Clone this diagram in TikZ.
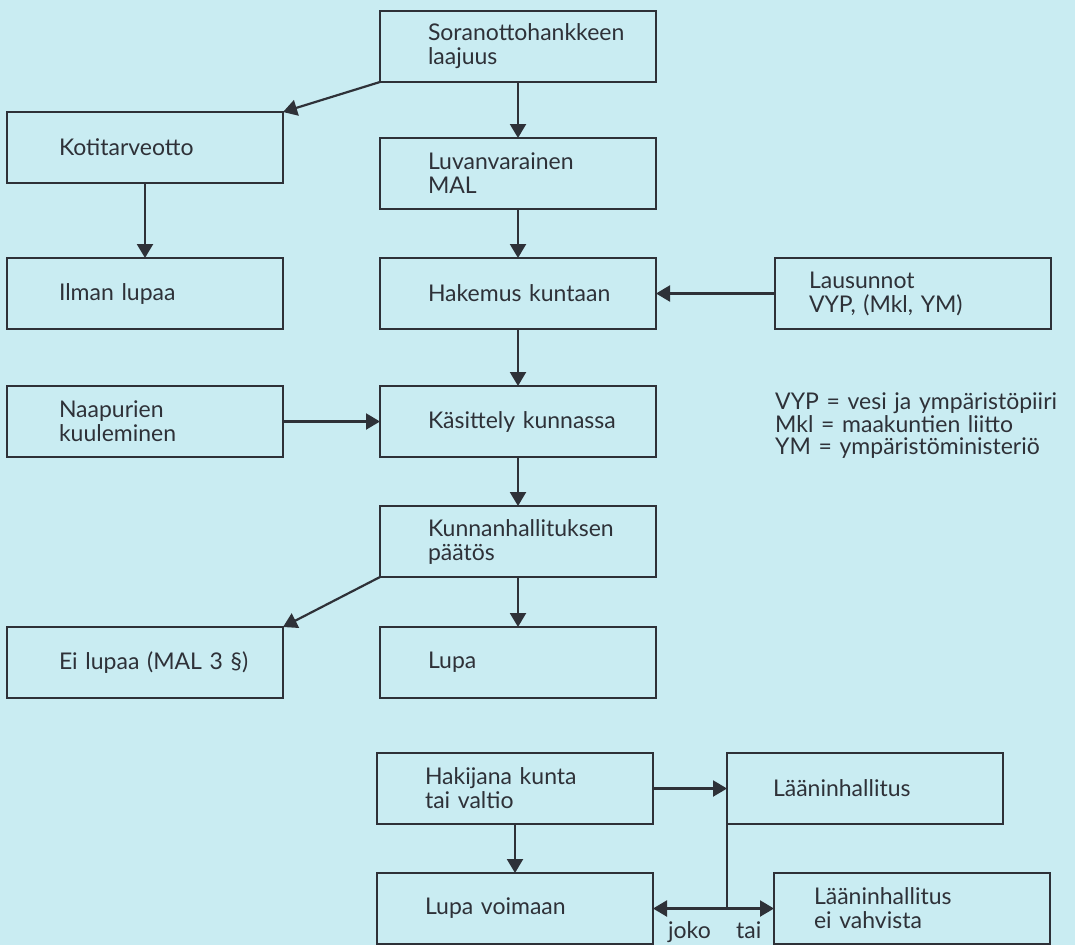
\documentclass[tikz,border=0pt]{standalone}
\usepackage{fontspec}
\setmainfont{Lato}
\usepackage{xcolor}
\definecolor{bgcyan}{HTML}{C9ECF2}
\definecolor{inkgray}{HTML}{2E3138}
\usepackage{tikz}
\usetikzlibrary{arrows.meta, positioning}
\tikzstyle{arrow} = [
  -{Triangle[length=14pt, width=16pt]}, line width=2.2pt, color=inkgray
]

\begin{document}
\begin{tikzpicture}[
  x=1pt, y=1pt,
  every node/.style={font=\fontsize{23}{24}\selectfont, text=inkgray},
  box/.style={rectangle, draw=inkgray, line width=2pt, outer sep=0pt,
              text width=260pt, inner xsep=8pt, minimum height=71pt,
              execute at begin node={\parindent=0pt\leftskip=#1\relax
                \rightskip=0pt plus 1fil\relax}},
  box/.default=40pt,
  legend/.style={text width=300pt, inner sep=0pt,
                 font=\fontsize{23}{22.5}\selectfont,
                 execute at begin node={\parindent=0pt\leftskip=0pt\relax
                   \rightskip=0pt plus 1fil\relax}},
  plain/.style={line width=2.2pt, color=inkgray},
]
  \fill[bgcyan] (0,0) rectangle (1075,-945);
  \useasboundingbox (0,0) rectangle (1075,-945);

  % keskisarake
  \node[box] (sora) at (518,-46.5) {Soranottohankkeen\\laajuus};
  \node[box, below=56pt of sora]      (luvan)     {Luvanvarainen\\MAL};
  \node[box, below=49pt of luvan]     (hakemus)   {Hakemus kuntaan};
  \node[box, below=57pt of hakemus]   (kasittely) {Käsittely kunnassa};
  \node[box, below=49pt of kasittely] (kunnan)    {Kunnanhallituksen\\päätös};
  \node[box, below=50pt of kunnan]    (lupa)      {Lupa};
  \node[box, below=55pt of lupa, xshift=-3pt]
    (hakija)  {Hakijana kunta\\tai valtio};
  \node[box, below=49pt of hakija]    (voimaan)   {Lupa voimaan};

  % vasen sarake
  \node[box=44pt, left=97pt of hakemus]   (ilman)    {Ilman lupaa};
  \node[box=44pt, above=75pt of ilman]    (koti)     {Kotitarveotto};
  \node[box=44pt, left=97pt of kasittely] (naapurit) {Naapurien\\kuuleminen};
  \node[box=44pt, left=97pt of lupa]      (eilupaa)  {Ei lupaa (MAL 3 §)};

  % oikea sarake
  \node[box=26pt, right=119pt of hakemus]
    (lausunnot) {Lausunnot\\VYP, (Mkl, YM)};
  \node[legend, anchor=north west] (selite) at (775,-393)
    {VYP = vesi ja ympäristöpiiri\\Mkl = maakuntien liitto\\YM = ympäristöministeriö};
  \node[box=38pt, right=74pt of hakija]   (laanin)   {Lääninhallitus};
  \node[box=32pt, right=121pt of voimaan]
    (eivahv)  {Lääninhallitus\\ei vahvista};

  \coordinate (jako) at (laanin.south west |- voimaan.east);
  \node[inner sep=0pt, anchor=north east] (joko) at ([xshift=-16pt, yshift=-13pt]jako) {joko};
  \node[inner sep=0pt, anchor=north west] (tai)  at ([xshift=9pt, yshift=-13pt]jako) {tai};

  \draw[arrow] (sora) -- (luvan);
  \draw[arrow] (sora.south west) -- (koti.north east);
  \draw[arrow] (koti) -- (ilman);
  \draw[arrow] (luvan) -- (hakemus);
  \draw[arrow] (lausunnot) -- (hakemus);
  \draw[arrow] (hakemus) -- (kasittely);
  \draw[arrow] (naapurit) -- (kasittely);
  \draw[arrow] (kasittely) -- (kunnan);
  \draw[arrow] (kunnan.south west) -- (eilupaa.north east);
  \draw[arrow] (kunnan) -- (lupa);
  \draw[arrow] (hakija) -- (laanin);
  \draw[arrow] (hakija) -- (voimaan);
  \draw[plain] (laanin.south west) -- (jako);
  \draw[arrow] (jako) -- (voimaan);
  \draw[arrow] (jako) -- (eivahv);
\end{tikzpicture}
\end{document}
